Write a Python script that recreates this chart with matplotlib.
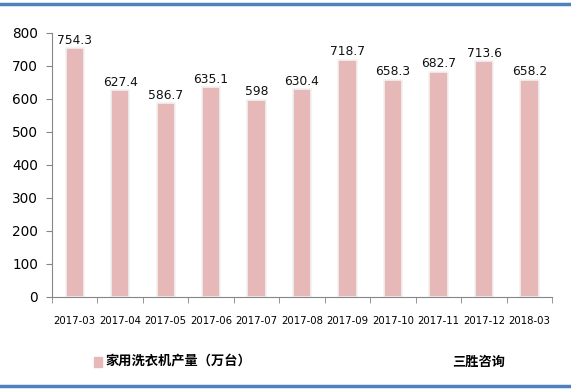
import numpy as np
import matplotlib.pyplot as plt
from matplotlib.lines import Line2D

plt.rcParams['font.family'] = ['DejaVu Sans', 'Noto Sans CJK SC']

months = ["2017-03", "2017-04", "2017-05", "2017-06", "2017-07", "2017-08",
          "2017-09", "2017-10", "2017-11", "2017-12", "2018-03"]
output = [754.3, 627.4, 586.7, 635.1, 598, 630.4, 718.7, 658.3, 682.7, 713.6, 658.2]
labels = ["754.3", "627.4", "586.7", "635.1", "598", "630.4",
          "718.7", "658.3", "682.7", "713.6", "658.2"]

fig = plt.figure(figsize=(5.71, 3.90), dpi=100)
ax = fig.add_axes([0.091, 0.2385, 0.876, 0.677])

x = np.arange(len(months))
ax.bar(x, output, width=0.4, color="#E6B9B8", edgecolor="#F2F2F2", linewidth=1.2)
for xi, v, t in zip(x, output, labels):
    ax.text(xi, v + 4, t, ha="center", va="bottom", fontsize=8.8, color="#111111")

ax.set_xlim(-0.5, len(months) - 0.5)
ax.set_ylim(0, 800)
ax.set_yticks(np.arange(0, 801, 100))
ax.tick_params(axis="y", labelsize=9.8, length=4, color="#868686", pad=6)
ax.set_xticks(x)
ax.set_xticklabels(months, fontsize=7.3)
ax.set_xticks(np.arange(-0.5, len(months), 1), minor=True)
ax.tick_params(axis="x", which="major", length=0, pad=14)
ax.tick_params(axis="x", which="minor", length=4, color="#868686")
for s in ["top", "right"]:
    ax.spines[s].set_visible(False)
for s in ["left", "bottom"]:
    ax.spines[s].set_color("#868686")

# legend and source text
fig.patches.append(plt.Rectangle((0.164, 0.06), 0.015, 0.024, transform=fig.transFigure,
                                 color="#E6B9B8"))
fig.text(0.184, 0.072, "家用洗衣机产量（万台）", fontsize=9.5, va="center",
         fontweight="bold", family=["Noto Sans CJK SC", "DejaVu Sans"])
fig.text(0.839, 0.072, "三胜咨询", fontsize=9.5, va="center", ha="center",
         fontweight="bold", family=["Noto Sans CJK SC", "DejaVu Sans"])

# blue frame lines
fig.add_artist(Line2D([0, 1], [0.99, 0.99], color="#4F81BD", linewidth=2.5, transform=fig.transFigure))
fig.add_artist(Line2D([0, 1], [0.01, 0.01], color="#4F81BD", linewidth=2.5, transform=fig.transFigure))

fig.savefig("out.png", dpi=100)
